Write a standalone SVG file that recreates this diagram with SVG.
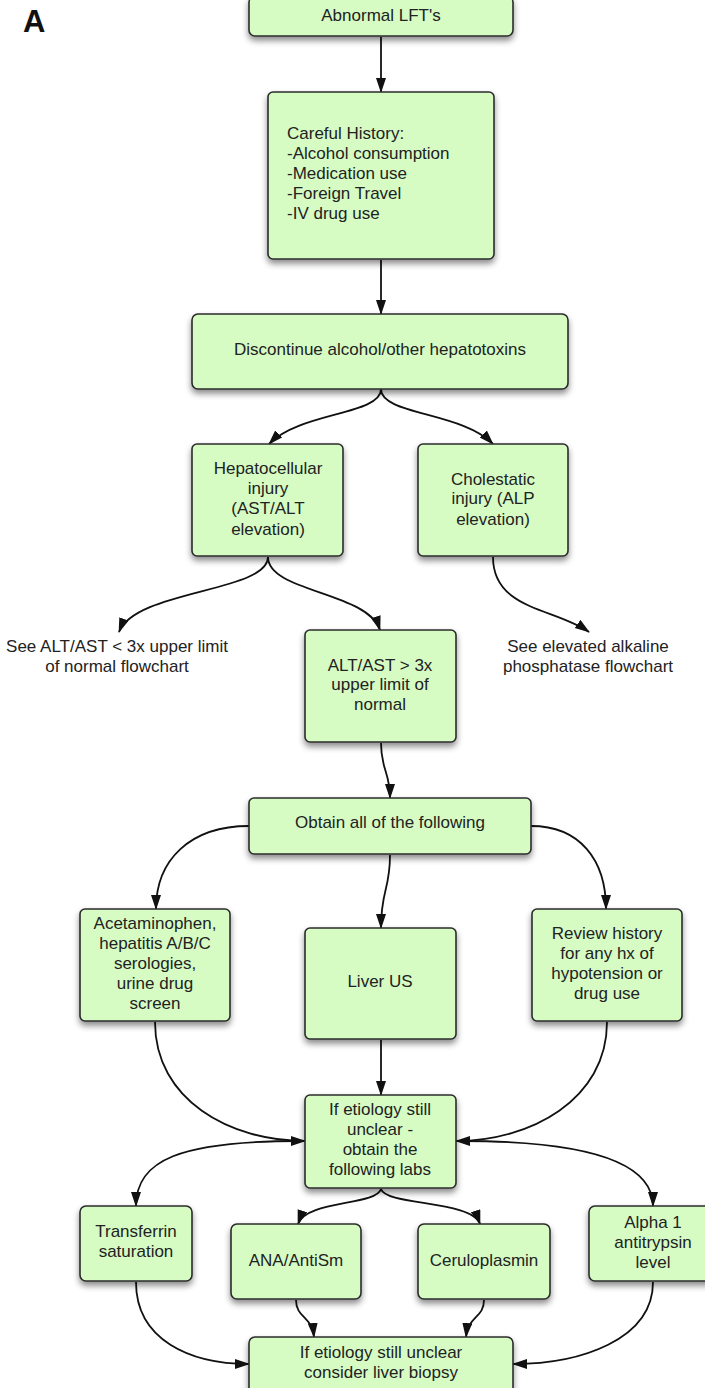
<svg xmlns="http://www.w3.org/2000/svg" width="705" height="1388" viewBox="0 0 705 1388">
<style>
.box{fill:#d6fcc4;stroke:#2b2b2b;stroke-width:1.6;filter:url(#sh)}
.t{font-family:"Liberation Sans",Arial,sans-serif;font-size:17px;fill:#222;text-anchor:middle}
.tl{font-family:"Liberation Sans",Arial,sans-serif;font-size:17px;fill:#222}
.c{fill:none;stroke:#111;stroke-width:1.8;marker-end:url(#ah)}
</style>
<defs>
<filter id="sh" x="-20%" y="-20%" width="140%" height="150%">
<feDropShadow dx="0" dy="4" stdDeviation="3" flood-color="#000" flood-opacity="0.45"/>
</filter>
<marker id="ah" markerUnits="userSpaceOnUse" markerWidth="16" markerHeight="12" refX="14" refY="5" orient="auto">
<path d="M0,0 L15,5 L0,10 z" fill="#111"/>
</marker>
</defs>
<text x="23" y="32" style="font-family:'Liberation Sans',Arial,sans-serif;font-size:31px;font-weight:bold;fill:#111">A</text>

<g id="connectors">
<path class="c" d="M381,37 L381,92"/>
<path class="c" d="M381,260 L381,314"/>
<path class="c" d="M381,389 C381,415 300,412 269,444"/>
<path class="c" d="M381,389 C381,415 462,412 493,444"/>
<path class="c" d="M268,557 C268,592 135,590 119,632"/>
<path class="c" d="M268,557 C268,592 368,592 380,630"/>
<path class="c" d="M493,557 C493,610 555,608 589,632"/>
<path class="c" d="M381,743 C381,770 390,772 390,798"/>
<path class="c" d="M249,826 C190,826 156,860 156,909"/>
<path class="c" d="M390,855 C390,890 381,890 381,928"/>
<path class="c" d="M531,826 C580,826 606,860 606,909"/>
<path class="c" d="M381,1040 L381,1095"/>
<path class="c" d="M155,1022 C155,1100 230,1141 305,1141"/>
<path class="c" d="M607,1022 C607,1100 530,1141 456,1141"/>
<path class="c" d="M300,1141 C180,1141 136,1160 136,1206"/>
<path class="c" d="M461,1141 C580,1141 653,1160 653,1206"/>
<path class="c" d="M381,1189 C376,1206 306,1200 298,1224"/>
<path class="c" d="M381,1189 C386,1206 472,1200 480,1224"/>
<path class="c" d="M136,1282 C136,1340 190,1364 249,1364"/>
<path class="c" d="M653,1282 C653,1340 580,1364 513,1364"/>
<path class="c" d="M296,1300 C296,1318 312,1316 314,1337"/>
<path class="c" d="M484,1300 C484,1318 468,1316 466,1337"/>
</g>

<g id="n1"><rect class="box" x="249" y="-4" width="264" height="40" rx="6"/><text class="t" x="381" y="21">Abnormal LFT's</text></g>
<g id="n2"><rect class="box" x="268" y="92" width="226" height="167" rx="5"/>
<text class="tl" x="287" y="139">Careful History:</text>
<text class="tl" x="287" y="159">-Alcohol consumption</text>
<text class="tl" x="287" y="179">-Medication use</text>
<text class="tl" x="287" y="199">-Foreign Travel</text>
<text class="tl" x="287" y="219">-IV drug use</text></g>
<g id="n3"><rect class="box" x="192" y="314" width="376" height="75" rx="6"/><text class="t" x="380" y="355">Discontinue alcohol/other hepatotoxins</text></g>
<g id="n4"><rect class="box" x="192" y="444" width="151" height="112" rx="5"/>
<text class="t" x="268" y="474">Hepatocellular</text><text class="t" x="268" y="494">injury</text><text class="t" x="268" y="514">(AST/ALT</text><text class="t" x="268" y="535">elevation)</text></g>
<g id="n5"><rect class="box" x="418" y="444" width="150" height="112" rx="5"/>
<text class="t" x="493" y="485">Cholestatic</text><text class="t" x="493" y="504">injury (ALP</text><text class="t" x="493" y="525">elevation)</text></g>
<g id="n6"><text class="t" x="117" y="652">See ALT/AST &lt; 3x upper limit</text><text class="t" x="117" y="672">of normal flowchart</text></g>
<g id="n7"><text class="t" x="588" y="652">See elevated alkaline</text><text class="t" x="588" y="672">phosphatase flowchart</text></g>
<g id="n8"><rect class="box" x="305" y="630" width="151" height="112" rx="5"/>
<text class="t" x="380" y="671">ALT/AST &gt; 3x</text><text class="t" x="380" y="690">upper limit of</text><text class="t" x="380" y="710">normal</text></g>
<g id="n9"><rect class="box" x="249" y="798" width="282" height="56" rx="5"/><text class="t" x="390" y="828">Obtain all of the following</text></g>
<g id="n10"><rect class="box" x="80" y="909" width="150" height="112" rx="5"/>
<text class="t" x="155" y="929">Acetaminophen,</text><text class="t" x="155" y="949">hepatitis A/B/C</text><text class="t" x="155" y="969">serologies,</text><text class="t" x="155" y="989">urine drug</text><text class="t" x="155" y="1009">screen</text></g>
<g id="n11"><rect class="box" x="305" y="928" width="151" height="111" rx="5"/><text class="t" x="380" y="987">Liver US</text></g>
<g id="n12"><rect class="box" x="532" y="909" width="150" height="112" rx="5"/>
<text class="t" x="607" y="939">Review history</text><text class="t" x="607" y="959">for any hx of</text><text class="t" x="607" y="979">hypotension or</text><text class="t" x="607" y="999">drug use</text></g>
<g id="n13"><rect class="box" x="305" y="1095" width="151" height="93" rx="5"/>
<text class="t" x="380" y="1115">If etiology still</text><text class="t" x="380" y="1135">unclear -</text><text class="t" x="380" y="1155">obtain the</text><text class="t" x="380" y="1175">following labs</text></g>
<g id="n14"><rect class="box" x="80" y="1206" width="112" height="75" rx="6"/>
<text class="t" x="136" y="1237">Transferrin</text><text class="t" x="136" y="1257">saturation</text></g>
<g id="n15"><rect class="box" x="231" y="1224" width="130" height="75" rx="6"/><text class="t" x="296" y="1266">ANA/AntiSm</text></g>
<g id="n16"><rect class="box" x="418" y="1224" width="132" height="75" rx="6"/><text class="t" x="484" y="1266">Ceruloplasmin</text></g>
<g id="n17"><rect class="box" x="589" y="1206" width="124" height="75" rx="6"/>
<text class="t" x="653" y="1228">Alpha 1</text><text class="t" x="653" y="1248">antitrypsin</text><text class="t" x="653" y="1268">level</text></g>
<g id="n18"><rect class="box" x="249" y="1337" width="264" height="64" rx="6"/>
<text class="t" x="381" y="1358">If etiology still unclear</text><text class="t" x="381" y="1378">consider liver biopsy</text></g>
</svg>
